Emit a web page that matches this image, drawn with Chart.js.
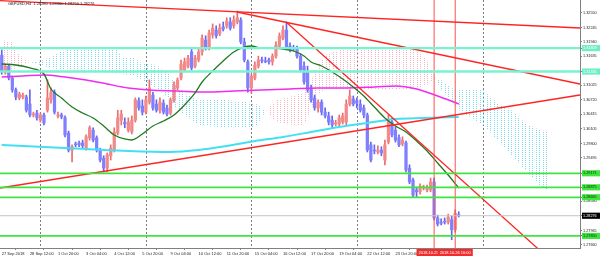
<!DOCTYPE html>
<html>
<head>
<meta charset="utf-8">
<title>GBPUSD,H4</title>
<script src="https://cdn.jsdelivr.net/npm/chart.js@4.4.0/dist/chart.umd.min.js"></script>
<style>
  html, body { margin: 0; padding: 0; background: #fff; }
</style>
</head>
<body>
<canvas id="chart" width="600" height="256"></canvas>
<script>
const symbol = 'GBPUSD,H4';

// one H4 bar each, 27 Sep 2018 04:00 .. 26 Oct 2018 20:00
const opens = [1.3166,1.3131,1.3143,1.3118,1.3093,1.3076,1.3078,1.3078,1.3063,1.3040,
  1.3044,1.3029,1.3040,1.3050,1.3072,1.3088,1.3038,1.3040,1.3034,1.3002,
  1.2966,1.2979,1.2981,1.2981,1.2970,1.2992,1.3008,1.2992,1.2966,1.2949,
  1.2928,1.2954,1.2966,1.3002,1.3029,1.3025,1.3008,1.3004,1.3029,1.3070,
  1.3059,1.3046,1.3067,1.3082,1.3063,1.3050,1.3065,1.3055,1.3044,1.3072,
  1.3097,1.3118,1.3135,1.3143,1.3173,1.3143,1.3156,1.3173,1.3198,1.3181,
  1.3209,1.3219,1.3211,1.3226,1.3228,1.3236,1.3228,1.3236,1.3240,1.3194,
  1.3152,1.3097,1.3118,1.3143,1.3156,1.3154,1.3156,1.3152,1.3164,1.3185,
  1.3202,1.3219,1.3185,1.3181,1.3181,1.3164,1.3143,1.3131,1.3097,1.3076,
  1.3055,1.3067,1.3046,1.3038,1.3029,1.3021,1.3021,1.3025,1.3025,1.3063,
  1.3074,1.3070,1.3063,1.3055,1.3040,1.2977,1.2966,1.2962,1.2966,1.2945,
  1.2983,1.3025,1.3008,1.2992,1.2979,1.2981,1.2928,1.2903,1.2882,1.2878,
  1.2886,1.2882,1.2882,1.2899,1.2823,1.2814,1.2816,1.2814,1.2819,1.2798,
  1.28280];
const highs = [1.3177,1.3147,1.3147,1.3122,1.3097,1.3088,1.3086,1.3082,1.3093,1.3046,
  1.3050,1.3044,1.3044,1.3114,1.3097,1.3093,1.3046,1.3044,1.3038,1.3006,
  1.2977,1.2983,1.2985,1.2987,1.2998,1.3017,1.3013,1.2996,1.2970,1.2954,
  1.2960,1.2977,1.3013,1.3050,1.3050,1.3034,1.3034,1.3038,1.3076,1.3076,
  1.3072,1.3080,1.3114,1.3088,1.3072,1.3076,1.3072,1.3061,1.3076,1.3110,
  1.3118,1.3156,1.3160,1.3166,1.3181,1.3166,1.3181,1.3209,1.3207,1.3219,
  1.3232,1.3228,1.3232,1.3236,1.3245,1.3245,1.3249,1.3259,1.3245,1.3202,
  1.3156,1.3126,1.3152,1.3164,1.3162,1.3162,1.3160,1.3169,1.3194,1.3213,
  1.3228,1.3236,1.3192,1.3187,1.3185,1.3169,1.3152,1.3143,1.3103,1.3082,
  1.3072,1.3072,1.3055,1.3046,1.3038,1.3029,1.3040,1.3044,1.3072,1.3093,
  1.3080,1.3076,1.3072,1.3061,1.3044,1.2983,1.2977,1.2975,1.2973,1.2987,
  1.3040,1.3034,1.3015,1.2998,1.2994,1.2985,1.2935,1.2907,1.2888,1.2895,
  1.2892,1.2892,1.2907,1.2907,1.2829,1.2821,1.2823,1.2831,1.2827,1.2840,
  1.28360];
const lows = [1.3126,1.3126,1.3114,1.3088,1.3072,1.3072,1.3074,1.3046,1.3036,1.3036,
  1.3029,1.3025,1.3019,1.3046,1.3065,1.3042,1.3034,1.3032,1.2994,1.2962,
  1.2941,1.2973,1.2973,1.2970,1.2966,1.2987,1.2983,1.2962,1.2941,1.2920,
  1.2920,1.2945,1.2962,1.2998,1.3019,1.3013,1.3004,1.3000,1.3025,1.3050,
  1.3040,1.3042,1.3063,1.3050,1.3046,1.3044,1.3042,1.3038,1.3040,1.3067,
  1.3093,1.3114,1.3131,1.3139,1.3135,1.3139,1.3152,1.3166,1.3177,1.3177,
  1.3202,1.3202,1.3207,1.3217,1.3223,1.3219,1.3223,1.3232,1.3190,1.3152,
  1.3088,1.3086,1.3114,1.3139,1.3150,1.3150,1.3147,1.3145,1.3160,1.3181,
  1.3198,1.3177,1.3173,1.3175,1.3160,1.3131,1.3105,1.3088,1.3067,1.3050,
  1.3046,1.3040,1.3034,1.3019,1.3013,1.3017,1.3017,1.3021,1.3017,1.3059,
  1.3059,1.3055,1.3046,1.3034,1.2962,1.2941,1.2958,1.2958,1.2954,1.2935,
  1.2979,1.2994,1.2983,1.2973,1.2975,1.2920,1.2895,1.2867,1.2867,1.2873,
  1.2882,1.2878,1.2878,1.2819,1.2806,1.2808,1.2810,1.2810,1.2777,1.2793,
  1.28250];
const closes = [1.3131,1.3143,1.3118,1.3093,1.3078,1.3084,1.3082,1.3050,1.3040,1.3042,
  1.3034,1.3040,1.3023,1.3076,1.3088,1.3046,1.3040,1.3036,1.2998,1.2966,
  1.2973,1.2977,1.2977,1.2975,1.2994,1.3013,1.2987,1.2966,1.2945,1.2928,
  1.2956,1.2970,1.3004,1.3034,1.3042,1.3021,1.3025,1.3029,1.3072,1.3055,
  1.3046,1.3072,1.3097,1.3055,1.3050,1.3067,1.3046,1.3042,1.3072,1.3103,
  1.3114,1.3147,1.3152,1.3160,1.3139,1.3160,1.3173,1.3202,1.3181,1.3213,
  1.3223,1.3207,1.3223,1.3221,1.3238,1.3223,1.3240,1.3245,1.3194,1.3156,
  1.3097,1.3122,1.3145,1.3156,1.3154,1.3152,1.3152,1.3164,1.3187,1.3207,
  1.3219,1.3181,1.3177,1.3179,1.3164,1.3135,1.3110,1.3093,1.3072,1.3055,
  1.3067,1.3046,1.3038,1.3025,1.3019,1.3023,1.3034,1.3038,1.3063,1.3080,
  1.3063,1.3065,1.3050,1.3040,1.2966,1.2945,1.2964,1.2966,1.2960,1.2977,
  1.3029,1.2998,1.2987,1.2977,1.2987,1.2924,1.2899,1.2871,1.2878,1.2890,
  1.2888,1.2886,1.2899,1.2823,1.2810,1.2812,1.2814,1.2825,1.2798,1.2833,
  1.28276];

const greenMaIdx = [0,4,8,12,14,17,20,23,26,29,32,35,37,40,43,46,49,52,55,57,60,63,66,69,71,74,77,80,83,86,88,91,94,97,100,103,106,109,112,115,118,121,124,127,130];
const greenMaVal = [1.31475,1.31454,1.31391,1.31264,1.30948,1.30758,1.30568,1.30442,1.30337,1.30168,1.29978,1.29894,1.29873,1.29999,1.30168,1.30273,1.30400,1.30611,1.30864,1.31095,1.31327,1.31538,1.31728,1.31833,1.31854,1.31812,1.31812,1.31791,1.31749,1.31644,1.31517,1.31433,1.31306,1.31159,1.30990,1.30800,1.30568,1.30337,1.30168,1.30041,1.29852,1.29641,1.29388,1.29135,1.28861];
const magentaMaIdx = [0,6,12,18,24,30,36,42,50,58,66,74,82,90,98,106,112,118,124,130];
const magentaMaVal = [1.31201,1.31222,1.31243,1.31201,1.31138,1.31053,1.30969,1.30927,1.30906,1.30885,1.30906,1.30927,1.30948,1.30969,1.30969,1.30990,1.31011,1.30948,1.30800,1.30632];
const cyanMaIdx = [0,12,24,36,48,56,64,72,80,88,96,104,112,120,130];
const cyanMaVal = [1.29767,1.29725,1.29683,1.29641,1.29620,1.29662,1.29746,1.29852,1.29936,1.30041,1.30147,1.30231,1.30315,1.30337,1.30358];

// ichimoku cloud edges (shifted 26 bars ahead)
const cloudIdx = [0,3,5,8,12,14,18,30,33,34,38,39,44,48,50,56,64,72,75,78,82,86,88,90,92,96,118,121,123,125,128,130,137,141,145,149,153,156];
const spanA = [1.31981,1.31939,1.31665,1.31517,1.31433,1.31391,1.31348,1.31306,1.31285,1.31264,1.31222,1.31180,1.30969,1.30716,1.30505,1.30189,1.30126,1.30126,1.30463,1.30716,1.30779,1.30885,1.31138,1.31454,1.31665,1.31770,1.31770,1.31559,1.31243,1.30927,1.30716,1.30505,1.30189,1.29873,1.29557,1.29240,1.28924,1.28776];
const spanB = [1.31306,1.31348,1.31433,1.31517,1.31559,1.31644,1.31770,1.31770,1.31770,1.31622,1.31622,1.31517,1.31454,1.31243,1.30927,1.30716,1.30716,1.30653,1.30505,1.30252,1.30189,1.30189,1.30505,1.30822,1.30927,1.30927,1.30927,1.31032,1.31138,1.31138,1.30969,1.30927,1.30927,1.30653,1.30505,1.30231,1.30084,1.30041];

// trend lines: bar index / price at both ends
const trendFromIdx = [-0.5, 66.9, 80.9, -0.5];
const trendFromPrice = [1.32809, 1.32571, 1.32360, 1.28861];
const trendToIdx = [164.5, 164.5, 153, 164.5];
const trendToPrice = [1.32234, 1.31053, 1.27550, 1.30821];

const aquaLevels = [1.31809, 1.31316];
const limeLevels = [1.29171, 1.28875, 1.28665, 1.27850];

const markerIdx = [123, 129];
const markerLabels = ['2018.10.25 16:00', '2018.10.26 16:00'];
const separatorIdx = [11, 41, 71, 101, 137];

const xTickIdx = [0, 8, 16, 24, 32, 40, 48, 56, 64, 72, 80, 88, 96, 104, 112];
const xTickLabels = ['27 Sep 2018', '28 Sep 12:00', '1 Oct 20:00', '3 Oct 04:00', '4 Oct 12:00',
  '5 Oct 20:00', '9 Oct 04:00', '10 Oct 12:00', '11 Oct 20:00', '15 Oct 04:00',
  '16 Oct 12:00', '17 Oct 20:00', '19 Oct 04:00', '22 Oct 12:00', '23 Oct 20:00'];
const yTicks = [1.32550,1.32245,1.31940,1.31635,1.31330,1.31025,1.30720,1.30415,1.30105,
  1.29800,1.29495,1.29190,1.28885,1.28580,1.28275,1.27965,1.27660];
const yMin = 1.27596;
const yMax = 1.32824;

const last = closes.length - 1;
const bid = closes[last];
const header = symbol + '  ' + [opens[last], highs[last], lows[last], closes[last]].map(v => v.toFixed(5)).join(' ');

const FONT = 'Liberation Sans';

// MT4 draws the cloud as dotted vertical hatching
function dotPattern(color) {
    const c = document.createElement('canvas');
    c.width = 7;
    c.height = 2;
    const g = c.getContext('2d');
    g.fillStyle = color;
    g.fillRect(0, 0, 1, 1);
    g.fillRect(4, 0, 1, 1);
    return g.createPattern(c, 'repeat');
}

function points(idx, vals) {
    return idx.map((v, i) => ({ x: v, y: vals[i] }));
}

function isUp(i) {
    return closes[i] >= opens[i];
}

function levelStyle(v) {
    if (aquaLevels.includes(v)) return { bg: '#6ceec6', fg: '#ffffff' };
    if (limeLevels.includes(v)) return { bg: '#3fe43f', fg: '#0a2a0a' };
    if (v === bid) return { bg: '#000000', fg: '#ffffff' };
    return null;
}

const wickData = highs.map((h, i) => ({ x: i, y: [lows[i], h] }));
const bodyData = opens.map((o, i) => ({ x: i, y: [o, closes[i]] }));

const lineBase = { type: 'line', pointRadius: 0, fill: false, spanGaps: true };

const trendSets = trendFromIdx.map((x0, i) => Object.assign({}, lineBase, {
    data: [{ x: x0, y: trendFromPrice[i] }, { x: trendToIdx[i], y: trendToPrice[i] }],
    borderColor: '#ff2424',
    borderWidth: 1.3,
    order: 2
}));

// the two vertical time markers, as lines running the full price range
const markerSets = markerIdx.map(v => Object.assign({}, lineBase, {
    data: [{ x: v, y: yMin }, { x: v, y: yMax }],
    borderColor: '#ff5050',
    borderWidth: 1,
    order: 3
}));

// separators, horizontal levels and labels that MT4 draws as objects
const overlays = {
    id: 'overlays',
    beforeDatasetsDraw(chart) {
        const { ctx, chartArea: area, scales: { x } } = chart;
        ctx.save();
        ctx.strokeStyle = '#7c7c7c';
        ctx.lineWidth = 1;
        ctx.setLineDash([2, 2]);
        separatorIdx.forEach(v => {
            const px = Math.round(x.getPixelForValue(v)) + 0.5;
            ctx.beginPath();
            ctx.moveTo(px, area.top);
            ctx.lineTo(px, area.bottom);
            ctx.stroke();
        });
        ctx.restore();
    },
    afterDatasetsDraw(chart) {
        const { ctx, chartArea: area, scales: { x, y } } = chart;
        ctx.save();
        ctx.setLineDash([]);

        function hline(price, color, width) {
            const py = y.getPixelForValue(price);
            ctx.strokeStyle = color;
            ctx.lineWidth = width;
            ctx.beginPath();
            ctx.moveTo(area.left, py);
            ctx.lineTo(area.right, py);
            ctx.stroke();
        }
        hline(bid, '#c4c4c4', 1);
        aquaLevels.forEach(p => hline(p, '#78f2cf', 2.4));
        limeLevels.forEach(p => hline(p, '#3fe43f', 1.8));

        ctx.font = '4px "' + FONT + '"';
        ctx.textBaseline = 'middle';
        ctx.textAlign = 'center';
        markerIdx.forEach((v, i) => {
            const px = x.getPixelForValue(v);
            const w = ctx.measureText(markerLabels[i]).width + 4;
            ctx.fillStyle = '#f02c2c';
            ctx.fillRect(px - w / 2, area.bottom + 1, w, 7);
            ctx.fillStyle = '#ffffff';
            ctx.fillText(markerLabels[i], px, area.bottom + 4.6);
        });

        ctx.textAlign = 'left';
        ctx.fillStyle = '#222222';
        ctx.fillText(header, 8, 4);
        ctx.restore();
    }
};

const pinkDots = dotPattern('#f6b3c4');
const cyanDots = dotPattern('#7fd8ec');

new Chart(document.getElementById('chart'), {
    type: 'bar',
    data: {
        datasets: [
            Object.assign({}, lineBase, {
                data: points(cloudIdx, spanA),
                borderColor: 'rgba(0,0,0,0)',
                borderWidth: 1,
                fill: { target: '+1', above: pinkDots, below: cyanDots },
                order: 30
            }),
            Object.assign({}, lineBase, {
                data: points(cloudIdx, spanB),
                borderColor: 'rgba(0,0,0,0)',
                borderWidth: 1,
                order: 30
            }),
            {
                type: 'bar',
                data: wickData,
                grouped: false,
                barThickness: 1,
                borderWidth: 0,
                backgroundColor: ctx => isUp(ctx.dataIndex) ? '#ec6c6c' : '#6464f2',
                order: 25
            },
            {
                type: 'bar',
                data: bodyData,
                grouped: false,
                barThickness: 2.6,
                minBarLength: 1,
                borderWidth: 0,
                backgroundColor: ctx => isUp(ctx.dataIndex) ? '#f28a8a' : '#8080ff',
                order: 24
            },
            Object.assign({}, lineBase, {
                data: points(cyanMaIdx, cyanMaVal),
                borderColor: '#44e0f2',
                borderWidth: 2,
                cubicInterpolationMode: 'monotone',
                order: 12
            }),
            Object.assign({}, lineBase, {
                data: points(magentaMaIdx, magentaMaVal),
                borderColor: '#f02cf0',
                borderWidth: 1.5,
                cubicInterpolationMode: 'monotone',
                order: 11
            }),
            Object.assign({}, lineBase, {
                data: points(greenMaIdx, greenMaVal),
                borderColor: '#1f7a1f',
                borderWidth: 1.3,
                cubicInterpolationMode: 'monotone',
                order: 10
            })
        ].concat(markerSets, trendSets)
    },
    options: {
        responsive: false,
        devicePixelRatio: 1,
        animation: false,
        layout: { padding: 0 },
        plugins: {
            legend: { display: false },
            tooltip: { enabled: false }
        },
        scales: {
            x: {
                type: 'linear',
                min: -0.5,
                max: 164.5,
                offset: false,
                border: { display: true, color: '#808080' },
                grid: { drawOnChartArea: false, drawTicks: true, tickLength: 2, color: '#808080' },
                ticks: {
                    autoSkip: false,
                    maxRotation: 0,
                    minRotation: 0,
                    align: 'start',
                    padding: 1,
                    color: '#222222',
                    font: { family: FONT, size: 4 },
                    callback: v => xTickLabels[xTickIdx.indexOf(v)]
                },
                afterBuildTicks: scale => {
                    scale.ticks = xTickIdx.map(v => ({ value: v }));
                },
                afterFit: scale => {
                    scale.height = 8;
                    scale.paddingLeft = 0;
                    scale.paddingRight = 0;
                }
            },
            y: {
                type: 'linear',
                position: 'right',
                min: yMin,
                max: yMax,
                border: { display: true, color: '#808080' },
                grid: { drawOnChartArea: false, drawTicks: true, tickLength: 2, color: '#808080' },
                ticks: {
                    autoSkip: false,
                    padding: 1,
                    font: { family: FONT, size: 3.8 },
                    color: ctx => { const s = levelStyle(ctx.tick.value); return s ? s.fg : '#222222'; },
                    showLabelBackdrop: ctx => levelStyle(ctx.tick.value) !== null,
                    backdropColor: ctx => { const s = levelStyle(ctx.tick.value); return s ? s.bg : 'rgba(0,0,0,0)'; },
                    backdropPadding: { top: 0.8, bottom: 0.8, left: 1, right: 5 },
                    callback: v => v.toFixed(5)
                },
                afterBuildTicks: scale => {
                    const special = aquaLevels.concat(limeLevels, [bid]);
                    const plain = yTicks.filter(v => special.every(s => Math.abs(s - v) > 0.0003));
                    scale.ticks = plain.concat(special).map(v => ({ value: v }));
                },
                afterFit: scale => {
                    scale.width = 20;
                    scale.paddingTop = 0;
                    scale.paddingBottom = 0;
                }
            }
        }
    },
    plugins: [overlays]
});
</script>
</body>
</html>
